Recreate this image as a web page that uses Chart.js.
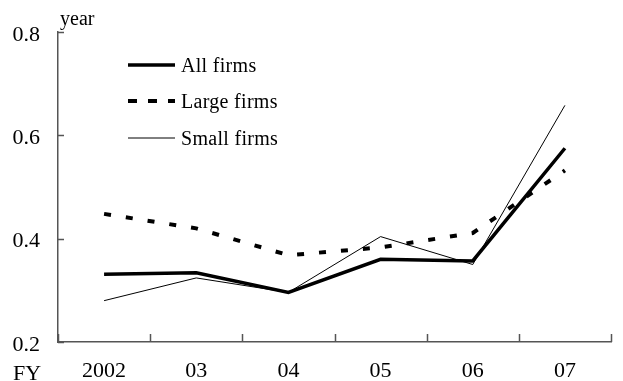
<!DOCTYPE html>
<html>
<head>
<meta charset="utf-8">
<script src="https://cdn.jsdelivr.net/npm/chart.js@4"></script>
<style>
  body { margin: 0; background: #fff; }
  #wrap { width: 623px; height: 381px; }
</style>
</head>
<body>
<div id="wrap"><canvas id="chart" width="623" height="381"></canvas></div>
<script>
const years = ['2002', '03', '04', '05', '06', '07'];
const allFirms = [0.331, 0.334, 0.296, 0.360, 0.357, 0.575];
const largeFirms = [0.448, 0.420, 0.368, 0.383, 0.411, 0.532];
const smallFirms = [0.280, 0.324, 0.296, 0.404, 0.350, 0.658];
const yTicks = [0.2, 0.4, 0.6, 0.8];

const serif = "'Liberation Serif', 'Times New Roman', serif";
const axisColor = '#555';
const legendDash = [9, 11];

// inward tick marks, legend and the two axis captions
const extras = {
    id: 'extras',
    afterDraw(chart) {
        const ctx = chart.ctx;
        const area = chart.chartArea;
        const x = chart.scales.x;
        const y = chart.scales.y;
        ctx.save();
        ctx.strokeStyle = axisColor;
        ctx.lineWidth = 1.5;
        ctx.beginPath();
        yTicks.forEach(v => {
            const py = Math.round(y.getPixelForValue(v)) + 0.5;
            ctx.moveTo(area.left, py);
            ctx.lineTo(area.left + 6, py);
        });
        for (let i = 0; i <= years.length; i++) {
            const px = Math.round(x.getPixelForValue(i - 0.5)) + 0.5;
            ctx.moveTo(px, area.bottom);
            ctx.lineTo(px, area.bottom - 8);
        }
        ctx.stroke();

        ctx.fillStyle = '#000';
        ctx.textBaseline = 'alphabetic';
        ctx.textAlign = 'left';
        ctx.font = '20px ' + serif;
        ctx.fillText('year', area.left + 2, 25);
        ctx.font = '22px ' + serif;
        ctx.fillText('FY', 13, 380);

        // legend
        ctx.font = '20px ' + serif;
        ctx.letterSpacing = '0.3px';
        const rows = [65, 101, 138];
        chart.data.datasets.forEach((ds, i) => {
            const ly = rows[i];
            ctx.strokeStyle = '#000';
            ctx.lineWidth = ds.borderWidth;
            ctx.setLineDash(ds.borderDash ? legendDash : []);
            ctx.beginPath();
            ctx.moveTo(128, ly);
            ctx.lineTo(175, ly);
            ctx.stroke();
            ctx.setLineDash([]);
            ctx.fillText(ds.label, 181, ly + 7);
        });
        ctx.restore();
    }
};

new Chart(document.getElementById('chart').getContext('2d'), {
    type: 'line',
    data: {
        labels: years,
        datasets: [
            { label: 'All firms', data: allFirms, borderColor: '#000', borderWidth: 3.5, pointRadius: 0, tension: 0 },
            { label: 'Large firms', data: largeFirms, borderColor: '#000', borderWidth: 4, borderDash: [7, 15], pointRadius: 0, tension: 0 },
            { label: 'Small firms', data: smallFirms, borderColor: '#000', borderWidth: 1, pointRadius: 0, tension: 0 }
        ]
    },
    options: {
        responsive: false,
        animation: false,
        layout: { padding: { left: 0, top: 32, right: 12, bottom: 0 } },
        plugins: { legend: { display: false }, tooltip: { enabled: false } },
        scales: {
            x: {
                offset: true,
                grid: { display: false, drawTicks: false },
                border: { display: true, color: axisColor, width: 1.5 },
                ticks: { color: '#000', font: { family: serif, size: 22 }, padding: 16, maxRotation: 0 },
                afterFit(scale) { scale.height = 39; }
            },
            y: {
                min: 0.2,
                max: 0.8,
                afterBuildTicks(scale) { scale.ticks = yTicks.map(v => ({ value: v })); },
                grid: { display: false, drawTicks: false },
                border: { display: true, color: axisColor, width: 1.5 },
                ticks: { color: '#000', font: { family: serif, size: 22 }, padding: 18, labelOffset: 3, callback: v => v.toFixed(1) },
                afterFit(scale) { scale.width = 58; }
            }
        }
    },
    plugins: [extras]
});
</script>
</body>
</html>
